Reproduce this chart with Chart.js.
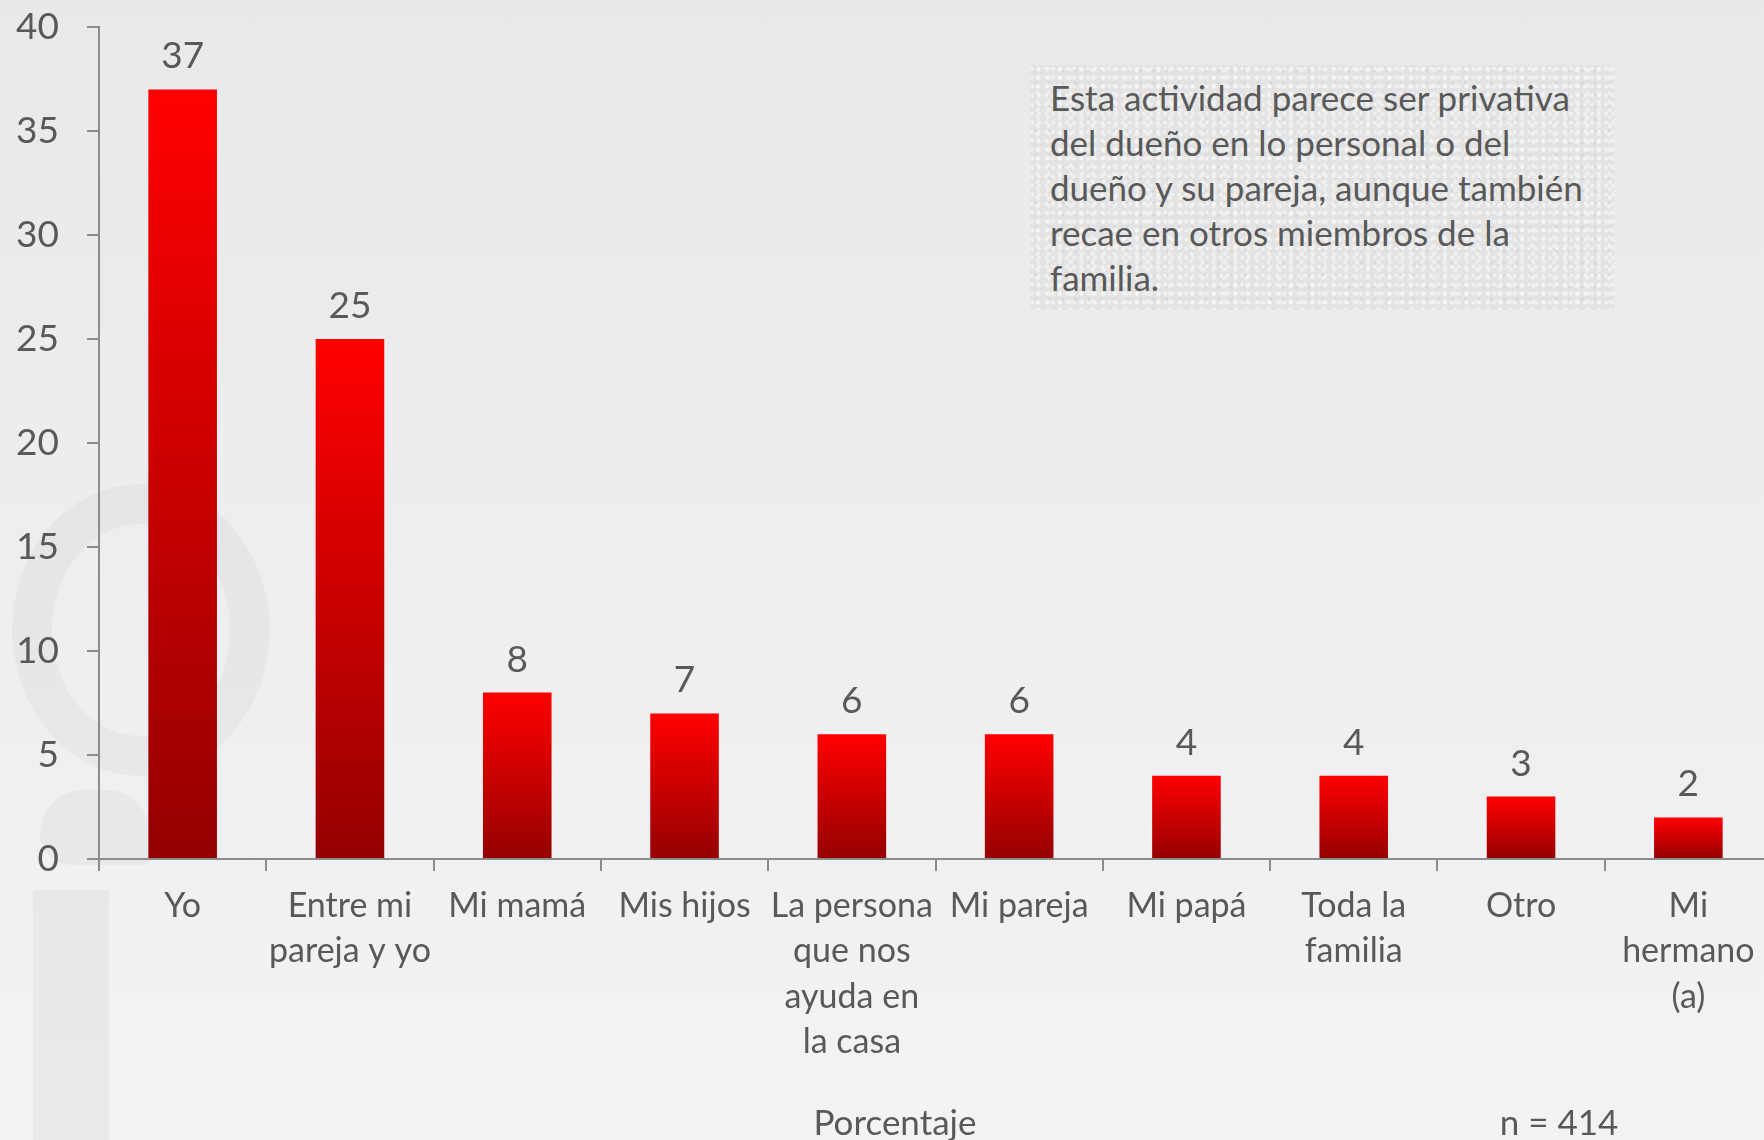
<!DOCTYPE html>
<html>
<head>
<meta charset="utf-8">
<script src="https://cdn.jsdelivr.net/npm/chart.js@4.4.1/dist/chart.umd.min.js"></script>
<style>
  html, body { margin: 0; padding: 0; }
  body {
    width: 1764px; height: 1140px; overflow: hidden; position: relative;
    background: linear-gradient(#e8e9eb, #f3f3f5);
    font-family: Lato, "Open Sans", sans-serif; color: #595959;
  }
  .wm { position: absolute; }
  #ring { left: 12px; top: 484px; width: 178px; height: 212px; border: 40px solid rgba(0,0,0,0.03); border-radius: 50%; }
  #blob { left: 40px; top: 790px; width: 110px; height: 75px; background: rgba(0,0,0,0.03); border-radius: 55px 55px 10px 40px; }
  #stem { left: 33px; top: 890px; width: 76px; height: 260px; background: rgba(0,0,0,0.035); }
  #cv { position: absolute; left: 0; top: 0; }
  #note {
    position: absolute; left: 1030px; top: 65px; width: 564px; height: 235px;
    padding: 10px 0 0 20px;
    background-color: #e3e3e3;
    background-image:
      radial-gradient(circle at 30% 40%, rgba(255,255,255,0.55) 1px, transparent 2.5px),
      radial-gradient(circle at 70% 60%, rgba(255,255,255,0.45) 1.5px, transparent 3px),
      radial-gradient(circle at 50% 50%, rgba(0,0,0,0.05) 1px, transparent 2px);
    background-size: 7px 9px, 11px 8px, 13px 12px;
    font-size: 35px; line-height: 45px; white-space: nowrap;
  }
  .foot { position: absolute; top: 1099px; font-size: 35px; line-height: 45px; transform: translateX(-50%); white-space: nowrap; }
</style>
</head>
<body>
<div class="wm" id="ring"></div>
<div class="wm" id="blob"></div>
<div class="wm" id="stem"></div>
<canvas id="cv" width="1772" height="1140" style="width:1772px;height:1140px"></canvas>
<div id="note">Esta actividad parece ser privativa<br>del dueño en lo personal o del<br>dueño y su pareja, aunque también<br>recae en otros miembros de la<br>familia.</div>
<div class="foot" style="left:895px">Porcentaje</div>
<div class="foot" style="left:1559px">n = 414</div>
<script>
const categories = [
  'Yo', ['Entre mi', 'pareja y yo'], 'Mi mamá', 'Mis hijos',
  ['La persona', 'que nos', 'ayuda en', 'la casa'], 'Mi pareja', 'Mi papá',
  ['Toda la', 'familia'], 'Otro', ['Mi', 'hermano', '(a)']
];
const values = [37, 25, 8, 7, 6, 6, 4, 4, 3, 2];
const yTicks = [0, 5, 10, 15, 20, 25, 30, 35, 40];

const textColor = '#595959';
const axisColor = '#8c8c8c';
const labelFont = { family: 'Lato', size: 34, lineHeight: 1.34 };
const numberFont = { family: 'Lato', size: 37 };

// red to dark red, one gradient per bar
function barFill(c) {
  const chart = c.chart;
  if (!chart.chartArea || c.dataIndex === undefined) return '#d00000';
  const y = chart.scales.y;
  const top = y.getPixelForValue(values[c.dataIndex]);
  const base = y.getPixelForValue(0);
  const g = chart.ctx.createLinearGradient(0, top, 0, base);
  g.addColorStop(0, '#ff0000');
  g.addColorStop(1, '#950000');
  return g;
}

const valueLabels = {
  id: 'valueLabels',
  afterDatasetsDraw(chart) {
    const ctx = chart.ctx;
    ctx.save();
    ctx.font = '37px Lato';
    ctx.fillStyle = textColor;
    ctx.textAlign = 'center';
    ctx.textBaseline = 'alphabetic';
    chart.getDatasetMeta(0).data.forEach((bar, i) => {
      ctx.fillText(String(values[i]), bar.x, bar.y - 21);
    });
    ctx.restore();
  }
};

new Chart(document.getElementById('cv'), {
  type: 'bar',
  data: {
    labels: categories,
    datasets: [{
      data: values,
      backgroundColor: barFill,
      barPercentage: 0.41,
      categoryPercentage: 1
    }]
  },
  options: {
    responsive: false,
    animation: false,
    layout: { padding: { top: 27, left: 0, right: 0, bottom: 0 } },
    plugins: { legend: { display: false }, tooltip: { enabled: false } },
    scales: {
      x: {
        grid: { offset: true, drawOnChartArea: false, tickLength: 12, color: axisColor, lineWidth: 2 },
        border: { color: axisColor, width: 2 },
        ticks: { color: textColor, font: labelFont, padding: 12, maxRotation: 0, autoSkip: false },
        afterFit: s => { s.height = 281; s.paddingLeft = 0; s.paddingRight = 0; }
      },
      y: {
        min: 0, max: 40,
        afterBuildTicks: s => { s.ticks = yTicks.map(v => ({ value: v })); },
        grid: { drawOnChartArea: false, tickLength: 12, color: axisColor, lineWidth: 2 },
        border: { color: axisColor, width: 2 },
        ticks: { color: textColor, font: numberFont, padding: 28 },
        afterFit: s => { s.width = 99; s.paddingTop = 0; s.paddingBottom = 0; }
      }
    }
  },
  plugins: [valueLabels]
});
</script>
</body>
</html>
